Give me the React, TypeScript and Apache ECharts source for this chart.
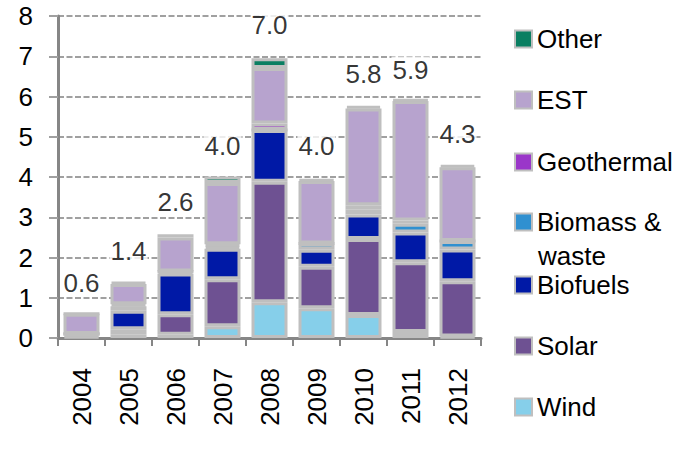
import React, { useEffect, useRef } from "react";
import * as echarts from "echarts";

const years = ["2004", "2005", "2006", "2007", "2008", "2009", "2010", "2011", "2012"];
const wind = [0.04, 0.08, 0.08, 0.29, 0.89, 0.74, 0.57, 0.15, 0.04];
const solar = [0.06, 0.14, 0.51, 1.17, 2.99, 1.03, 1.89, 1.73, 1.37];
const biofuels = [0, 0.46, 1.01, 0.76, 1.29, 0.42, 0.61, 0.74, 0.79];
const biomass = [0, 0.11, 0.05, 0.06, 0, 0.16, 0.13, 0.22, 0.21];
const geothermal = [0, 0.05, 0, 0.05, 0.16, 0, 0.1, 0.08, 0];
const est = [0.5, 0.5, 0.85, 1.52, 1.38, 1.55, 2.4, 2.97, 1.83];
const other = [0, 0.05, 0.08, 0.16, 0.24, 0.04, 0.07, 0.03, 0.06];
const totals = [0.6, 1.4, 2.6, 4.0, 7.0, 4.0, 5.8, 5.9, 4.3];
const yTicks = [0, 1, 2, 3, 4, 5, 6, 7, 8];

const seriesDefs = [
  { name: "Wind", data: wind, color: "#86CFEA" },
  { name: "Solar", data: solar, color: "#6E5192" },
  { name: "Biofuels", data: biofuels, color: "#0019A6" },
  { name: "Biomass & waste", data: biomass, color: "#3090D0" },
  { name: "Geothermal", data: geothermal, color: "#9A36C9" },
  { name: "EST", data: est, color: "#B7A3CE" },
  { name: "Other", data: other, color: "#0A7F62" },
];

const legendTops: Record<string, number> = {
  Other: 26,
  EST: 87,
  Geothermal: 149,
  "Biomass & waste": 209,
  Biofuels: 272,
  Solar: 333,
  Wind: 394,
};

const FONT = "'Liberation Sans', Arial, sans-serif";
const FS = 26;

export default function App() {
  const ref = useRef<HTMLDivElement>(null);
  useEffect(() => {
    if (!ref.current) return;
    const chart = echarts.init(ref.current, null, { renderer: "svg" });
    const legends = seriesDefs.map((s) => ({
      data: [s.name],
      left: 514,
      top: legendTops[s.name],
      padding: 0,
      itemWidth: 17,
      itemHeight: 17,
      itemGap: 6,
      icon: "rect",
      itemStyle: { borderColor: "#BFBFBF", borderWidth: 2 },
      formatter: (n: string) => (n === "Biomass & waste" ? "Biomass &" : n),
      textStyle: { fontSize: FS, color: "#000", fontFamily: FONT },
      selectedMode: false,
    }));
    chart.setOption({
      animation: false,
      backgroundColor: "#fff",
      grid: { left: 58, top: 16, right: 212, bottom: 119, outerBoundsMode: "none" },
      legend: legends,
      graphic: [
        {
          type: "text",
          left: 538,
          top: 243,
          style: { text: "waste", fontSize: FS, fontFamily: FONT, fill: "#000" },
        },
      ],
      xAxis: {
        type: "category",
        data: years,
        axisLine: { lineStyle: { color: "#868686", width: 3 } },
        axisTick: { show: true, length: 8, lineStyle: { color: "#868686", width: 2 } },
        axisLabel: { rotate: 90, margin: 30, fontSize: FS, color: "#000", fontFamily: FONT },
      },
      yAxis: {
        type: "value",
        min: yTicks[0],
        max: yTicks[yTicks.length - 1],
        interval: 1,
        axisLine: { show: true, lineStyle: { color: "#868686", width: 3 } },
        axisTick: { show: true, length: 9, lineStyle: { color: "#A0A0A0", width: 2 } },
        axisLabel: { margin: 25, fontSize: FS, color: "#000", fontFamily: FONT },
        splitLine: { show: true, lineStyle: { color: "#A0A0A0", width: 2, type: [6, 2.5] } },
      },
      series: [
        ...seriesDefs.map((s) => ({
          name: s.name,
          type: "bar",
          stack: "total",
          barWidth: 36,
          data: s.data,
          itemStyle: { color: s.color, borderColor: "#BFBFBF", borderWidth: 3 },
        })),
        {
          name: "Total",
          type: "scatter",
          data: totals,
          symbolSize: 0,
          silent: true,
          z: 10,
          label: {
            show: true,
            position: "top",
            distance: 18,
            formatter: (p: any) => totals[p.dataIndex].toFixed(1),
            fontSize: FS,
            color: "#000",
            fontFamily: FONT,
            backgroundColor: "#fff",
            padding: [0, 1],
          },
        },
      ],
    });
    return () => chart.dispose();
  }, []);
  return (
    <div
      ref={ref}
      style={{ position: "fixed", left: 0, top: 0, width: 693, height: 457 }}
    />
  );
}
